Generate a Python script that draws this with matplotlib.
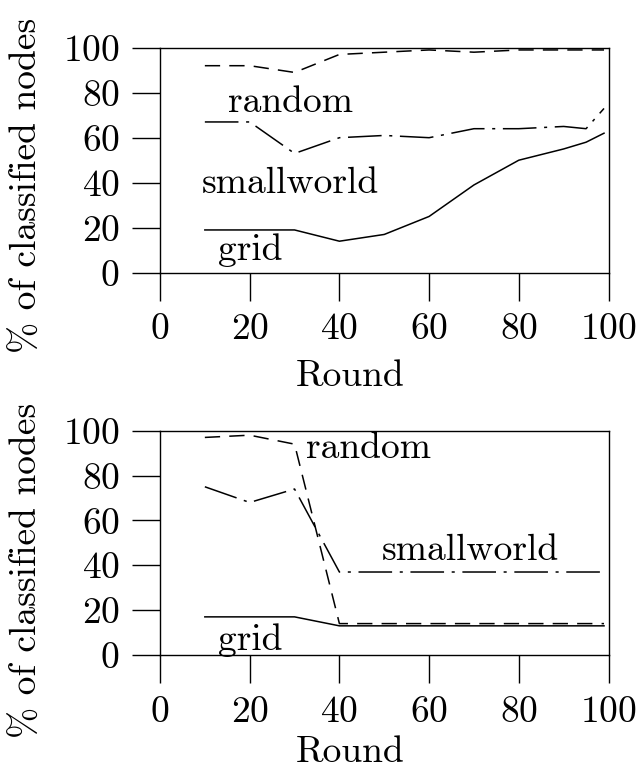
import matplotlib
matplotlib.use("Agg")
import matplotlib.pyplot as plt

plt.rcParams['font.family'] = ['cmr10', 'DejaVu Serif']
plt.rcParams['mathtext.fontset'] = 'cm'
plt.rcParams['axes.formatter.use_mathtext'] = True

# Top panel data
rounds_top = [10, 20, 30, 40, 50, 60, 70, 80, 90, 95, 99]
random_top = [92, 92, 89, 97, 98, 99, 98, 99, 99, 99, 99]
smallworld_top = [67, 67, 53, 60, 61, 60, 64, 64, 65, 64, 73]
grid_top = [19, 19, 19, 14, 17, 25, 39, 50, 55, 58, 62]

# Bottom panel data
rounds_bot = [10, 20, 30, 40, 50, 60, 70, 80, 90, 99]
random_bot = [97, 98, 94, 14, 14, 14, 14, 14, 14, 14]
smallworld_bot = [75, 68, 74, 37, 37, 37, 37, 37, 37, 37]
grid_bot = [17, 17, 17, 13, 13, 13, 13, 13, 13, 13]

xticks = [0, 20, 40, 60, 80, 100]
yticks = [0, 20, 40, 60, 80, 100]

fig = plt.figure(figsize=(6.4, 7.71), dpi=100)
W, H = 640, 771
L, R = 160, 608.5
panels = [
    (47.7, 272.7, rounds_top, random_top, smallworld_top, grid_top,
     [(15.2, 71.6, 'random'), (9.3, 35.6, 'smallworld'), (13, 5.6, 'grid')], 185, 386),
    (430.7, 655, rounds_bot, random_bot, smallworld_bot, grid_bot,
     [(32.5, 88, 'random'), (49.4, 42.3, 'smallworld'), (13, 2.2, 'grid')], 570, 762),
]
fs = 27
for top, bot, xs, rnd, sw, gr, labels, ylab_y, xlab_base in panels:
    ax = fig.add_axes([L / W, 1 - bot / H, (R - L) / W, (bot - top) / H])
    ax.plot(xs, rnd, color='black', lw=1.1, linestyle=(0, (10, 6)))
    ax.plot(xs, sw, color='black', lw=1.1, linestyle=(0, (22, 5, 2, 5)))
    ax.plot(xs, gr, color='black', lw=1.1, linestyle='-')
    for x, y, t in labels:
        ax.text(x, y, t, fontsize=fs, ha='left', va='baseline')
    ax.set_xlim(0, 100)
    ax.set_ylim(0, 100)
    ax.set_xticks(xticks)
    ax.set_yticks(yticks)
    ax.tick_params(direction='out', length=20, width=1, labelsize=fs, pad=9)
    for s in ax.spines.values():
        s.set_linewidth(1)
    fig.text(350 / W, 1 - xlab_base / H, 'Round',
             fontsize=fs, ha='center', va='baseline')
    fig.text(27 / W, 1 - ylab_y / H, '% of classified nodes', rotation=90,
             fontsize=fs, ha='center', va='center')

fig.savefig('out.png', dpi=100)
